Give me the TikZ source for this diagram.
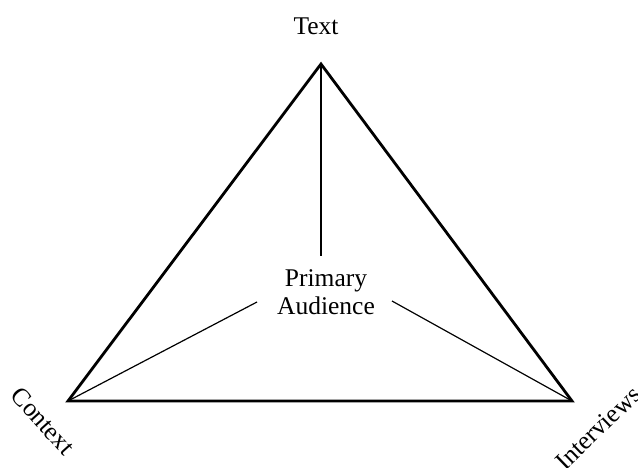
\documentclass[tikz,border=0pt]{standalone}
\usepackage{fontspec}
\setmainfont{Liberation Serif}
\usepackage{tikz}

\begin{document}
\begin{tikzpicture}[x=1pt,y=1pt,
  sideLine/.style={draw=drawColor,line width=2.8pt},
  spokeLine/.style={draw=drawColor,line width=1.2pt},
  labelText/.style={text=drawColor,inner sep=0pt,outer sep=0pt,font=\fontsize{25.5}{28}\selectfont}]
\definecolor{fillColor}{RGB}{255,255,255}
\definecolor{drawColor}{RGB}{0,0,0}
\path[use as bounding box,fill=fillColor] (0,0) rectangle (638,467);
\begin{scope}
\path[clip] (0,0) rectangle (638,467);

% corners of the triangle
\coordinate (apexText) at (321,403);
\coordinate (apexContext) at (68,66);
\coordinate (apexInterviews) at (572,66);

\path[sideLine] (apexText) -- (apexContext) -- (apexInterviews) -- cycle;

% centre
\node[labelText,align=center] (audience) at (326,175) {Primary\\Audience};
\coordinate (hubText) at (321,211);
\coordinate (hubContext) at (257,165);
\coordinate (hubInterviews) at (392,166);

\path[spokeLine] (apexText) -- (hubText);
\path[spokeLine] (apexContext) -- (hubContext);
\path[spokeLine] (apexInterviews) -- (hubInterviews);

% corner labels
\node[labelText] (text) at (316,441) {Text};
\node[labelText,rotate=-48] (context) at (43,46) {Context};
\node[labelText,rotate=44] (interviews) at (598,39) {Interviews};
\end{scope}
\end{tikzpicture}
\end{document}
